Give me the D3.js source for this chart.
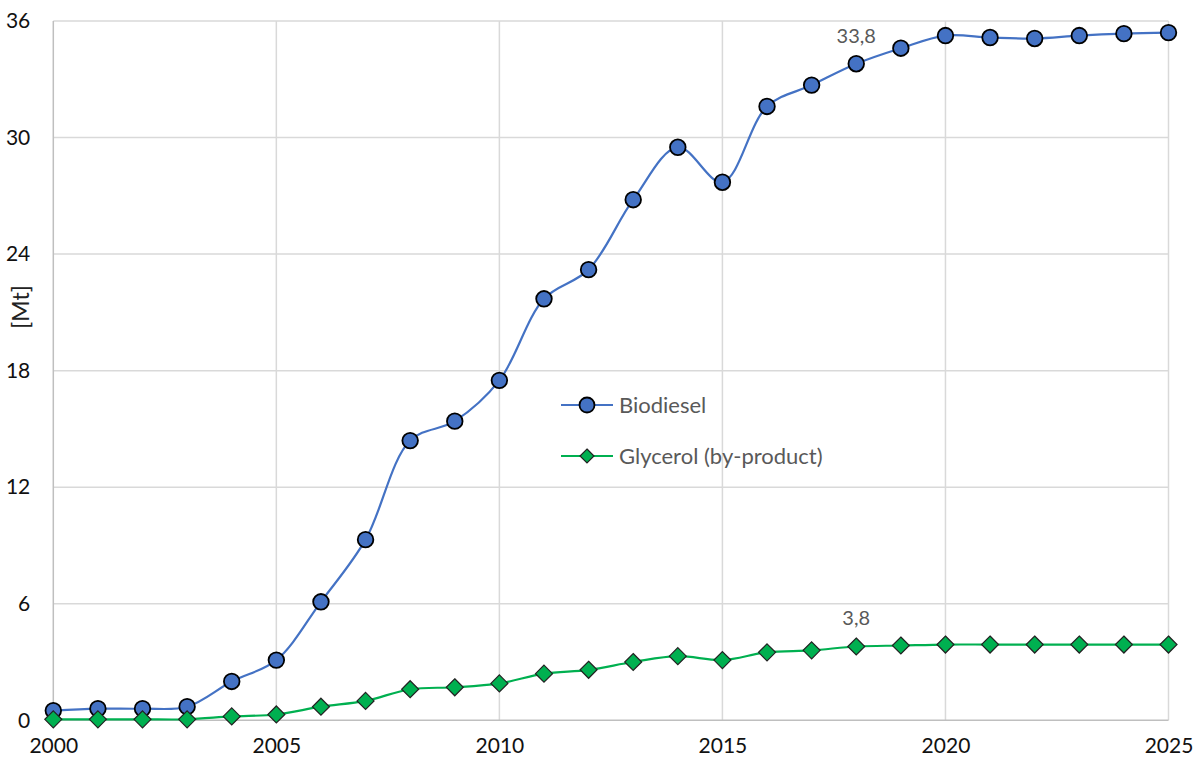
<!DOCTYPE html>
<html>
<head>
<meta charset="utf-8">
<script src="https://cdn.jsdelivr.net/npm/d3@7"></script>
<style>
  html, body { margin: 0; padding: 0; background: #fff; }
  svg { display: block; font-family: Lato, "Open Sans", sans-serif; }
</style>
</head>
<body>
<svg id="chart" width="1201" height="762"></svg>
<script>
// Production volumes, Mt per year
const years = d3.range(2000, 2026);
const biodiesel = [0.5, 0.6, 0.6, 0.7, 2.0, 3.1, 6.1, 9.3, 14.4, 15.4, 17.5, 21.7, 23.2, 26.8,
                   29.5, 27.7, 31.6, 32.7, 33.8, 34.6, 35.25, 35.15, 35.1, 35.25, 35.35, 35.4];
const glycerol = [0.05, 0.05, 0.05, 0.05, 0.2, 0.3, 0.7, 1.0, 1.6, 1.7, 1.9, 2.4, 2.6, 3.0,
                  3.3, 3.1, 3.5, 3.6, 3.8, 3.85, 3.9, 3.9, 3.9, 3.9, 3.9, 3.9];
const yTicks = [0, 6, 12, 18, 24, 30, 36];
const xTicks = [2000, 2005, 2010, 2015, 2020, 2025];
const seriesNames = ["Biodiesel", "Glycerol (by-product)"];
const labelYear = 2018;

const svg = d3.select("#chart");
const m = { left: 53.3, right: 1168.5, top: 21, bottom: 720.3 };

const x = d3.scaleLinear().domain([2000, 2025]).range([m.left, m.right]);
const y = d3.scaleLinear().domain([0, 36]).range([m.bottom, m.top]);

// Gridlines
const grid = svg.append("g");
grid.selectAll("line.h").data(yTicks.filter(d => d > 0)).join("line")
  .attr("x1", m.left).attr("x2", m.right)
  .attr("y1", d => y(d)).attr("y2", d => y(d))
  .attr("stroke", "#d9d9d9").attr("stroke-width", 1.5);
grid.selectAll("line.v").data(xTicks.filter(d => d > 2000)).join("line")
  .attr("y1", m.top).attr("y2", m.bottom)
  .attr("x1", d => x(d)).attr("x2", d => x(d))
  .attr("stroke", "#d9d9d9").attr("stroke-width", 1.5);

// Axis lines
svg.append("line").attr("x1", m.left).attr("x2", m.right)
  .attr("y1", m.bottom).attr("y2", m.bottom)
  .attr("stroke", "#bfbfbf").attr("stroke-width", 1.5);
svg.append("line").attr("x1", m.left).attr("x2", m.left)
  .attr("y1", m.top).attr("y2", m.bottom)
  .attr("stroke", "#bfbfbf").attr("stroke-width", 1.5);

// Tick labels via d3 axes
const yAxis = svg.append("g")
  .attr("transform", `translate(${m.left},0)`)
  .call(d3.axisLeft(y).tickValues(yTicks).tickSize(0).tickPadding(23));
const xAxis = svg.append("g")
  .attr("transform", `translate(0,${m.bottom})`)
  .call(d3.axisBottom(x).tickValues(xTicks).tickFormat(d3.format("d")).tickSize(0).tickPadding(18));
[yAxis, xAxis].forEach(g => {
  g.select(".domain").remove();
  g.selectAll("text").attr("font-size", 21).attr("fill", "#111")
    .attr("font-family", "Lato, 'Open Sans', sans-serif");
});

// Axis title
svg.append("text")
  .attr("transform", "translate(29,307) rotate(-90)")
  .attr("text-anchor", "middle")
  .attr("font-size", 23).attr("fill", "#222")
  .text("[Mt]");

const series = [
  { name: seriesNames[0], values: biodiesel, color: "#4472C4", marker: "circle" },
  { name: seriesNames[1], values: glycerol, color: "#00B050", marker: "diamond" }
];

const line = d3.line()
  .x((d, i) => x(years[i]))
  .y(d => y(d))
  .curve(d3.curveCatmullRom.alpha(0.5));

function drawMarker(g, type, cx, cy, color, size) {
  if (type === "circle") {
    g.append("circle").attr("cx", cx).attr("cy", cy).attr("r", size)
      .attr("fill", color).attr("stroke", "#000").attr("stroke-width", 1.8);
  } else {
    const s = size;
    g.append("path")
      .attr("d", `M${cx},${cy - s}L${cx + s},${cy}L${cx},${cy + s}L${cx - s},${cy}Z`)
      .attr("fill", color).attr("stroke", "#222").attr("stroke-width", 1.2);
  }
}

series.forEach(s => {
  svg.append("path").datum(s.values)
    .attr("d", line).attr("fill", "none")
    .attr("stroke", s.color).attr("stroke-width", 2.2);
});
series.forEach(s => {
  const g = svg.append("g");
  s.values.forEach((v, i) => drawMarker(g, s.marker, x(years[i]), y(v), s.color, s.marker === "circle" ? 7.8 : 8.5));
});

// Value labels
series.forEach(s => {
  const i = years.indexOf(labelYear);
  const v = s.values[i];
  svg.append("text")
    .attr("x", x(labelYear)).attr("y", y(v) - 21)
    .attr("text-anchor", "middle")
    .attr("font-size", 20).attr("fill", "#595959")
    .text(d3.format(".1f")(v).replace(".", ","));
});

// Legend
const legend = svg.append("g");
const legY = [405, 456];
series.forEach((s, i) => {
  legend.append("line").attr("x1", 561).attr("x2", 613)
    .attr("y1", legY[i]).attr("y2", legY[i])
    .attr("stroke", s.color).attr("stroke-width", 2.2);
  drawMarker(legend, s.marker, 587, legY[i], s.color, s.marker === "circle" ? 7.5 : 7);
  legend.append("text").attr("x", 619).attr("y", legY[i])
    .attr("dy", "0.36em")
    .attr("font-size", 22).attr("fill", "#595959")
    .text(s.name);
});
</script>
</body>
</html>
